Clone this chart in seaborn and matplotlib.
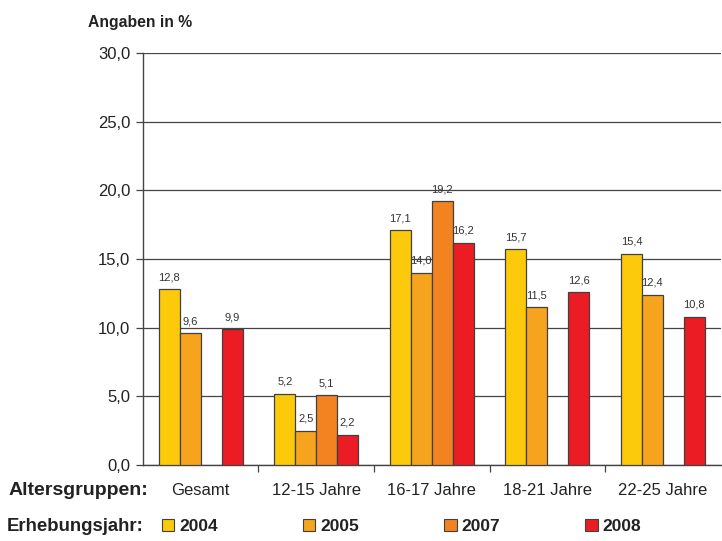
import numpy as np
import pandas as pd
import matplotlib
matplotlib.use("Agg")
import matplotlib.pyplot as plt
from matplotlib.patches import Patch
import seaborn as sns

groups = ["Gesamt", "12-15 Jahre", "16-17 Jahre", "18-21 Jahre", "22-25 Jahre"]
years = ["2004", "2005", "2007", "2008"]
v2004 = [12.8, 5.2, 17.1, 15.7, 15.4]
v2005 = [9.6, 2.5, 14.0, 11.5, 12.4]
v2007 = [np.nan, 5.1, 19.2, np.nan, np.nan]
v2008 = [9.9, 2.2, 16.2, 12.6, 10.8]
yticks = [0, 5, 10, 15, 20, 25, 30]

colors = ["#FCCA0A", "#F6A41E", "#F28320", "#EC1C24"]

rows = []
for year, vals in zip(years, [v2004, v2005, v2007, v2008]):
    for g, v in zip(groups, vals):
        if not np.isnan(v):
            rows.append({"Altersgruppe": g, "Jahr": year, "Wert": v})
df = pd.DataFrame(rows)

sns.set_theme(style="white")
plt.rcParams["font.family"] = ["Liberation Sans", "DejaVu Sans"]

fig = plt.figure(figsize=(7.22, 5.41), dpi=100)
ax = fig.add_axes([0.198, 0.1405, 0.800, 0.7615])

sns.barplot(data=df, x="Altersgruppe", y="Wert", hue="Jahr",
            order=groups, hue_order=years, palette=colors,
            width=0.725, edgecolor="#404040", linewidth=0.9,
            saturation=1, errorbar=None, ax=ax, legend=False, zorder=3)

def fmt(v):
    return f"{v:.1f}".replace(".", ",")

for cont in ax.containers:
    ax.bar_label(cont, labels=[fmt(v) for v in cont.datavalues],
                 padding=5, fontsize=8, color="#333333")

ax.set_ylim(0, 30)
ax.set_xlim(-0.5, len(groups) - 0.5)
ax.set_yticks(yticks)
ax.set_yticklabels([fmt(t) for t in yticks], fontsize=12, color="#222222")
ax.yaxis.grid(True, color="#444444", linewidth=0.9, zorder=0)
ax.set_axisbelow(True)

ax.set_xticks(range(len(groups)))
ax.set_xticklabels(groups, fontsize=12, color="#222222")
ax.tick_params(axis="x", length=0, pad=13)
ax.tick_params(axis="y", left=True, length=5, width=0.9, color="#444444", pad=4)
ax.set_xticks(np.arange(0.5, len(groups) - 0.5, 1), minor=True)
ax.tick_params(axis="x", which="minor", bottom=True, length=5, width=0.9, color="#444444")

for s in ["top", "right"]:
    ax.spines[s].set_visible(False)
for s in ["left", "bottom"]:
    ax.spines[s].set_color("#444444")
    ax.spines[s].set_linewidth(1.0)

ax.set_xlabel("")
ax.set_ylabel("")

fig.text(0.122, 0.958, "Angaben in %", fontsize=11.3, fontweight="bold",
         color="#222222", va="center")
fig.text(0.012, 0.094, "Altersgruppen:", fontsize=14, fontweight="bold",
         color="#222222", va="center")
fig.text(0.010, 0.027, "Erhebungsjahr:", fontsize=13.4, fontweight="bold",
         color="#222222", va="center")

handles = [Patch(facecolor=c, edgecolor="#404040", linewidth=0.8) for c in colors]
leg = fig.legend(handles, years, loc="center left", bbox_to_anchor=(0.203, 0.027),
                 ncol=4, frameon=False, handlelength=0.7, handleheight=0.7,
                 handletextpad=0.3, columnspacing=4.9,
                 prop={"weight": "bold", "size": 12.5})
for t in leg.get_texts():
    t.set_color("#222222")

fig.savefig("out.png", dpi=100)
